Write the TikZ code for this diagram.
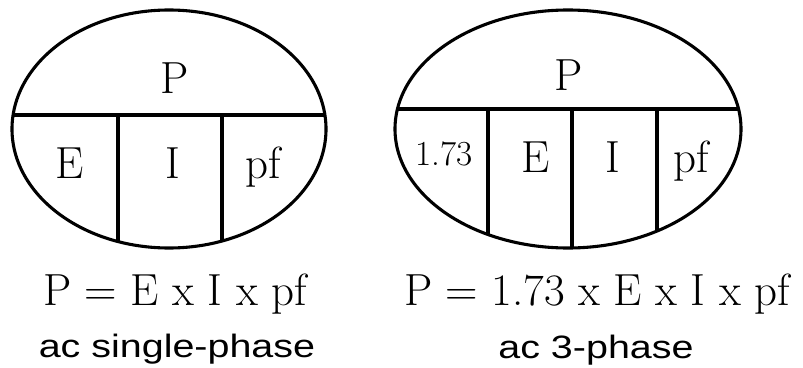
\documentclass[tikz,border=0pt]{standalone}
\usepackage{fontspec}
\usepackage{graphicx}
\newfontfamily\arialfont{Liberation Sans}
\newcommand\tightspace{\spaceskip 0.3em\relax}
\tikzset{
  rim/.style={line width=2.2pt,black},
  lbl/.style={anchor=base,inner sep=0pt,font=\rmfamily\fontsize{32}{38}\selectfont\tightspace},
  lblsmall/.style={anchor=base,inner sep=0pt,font=\rmfamily\fontsize{25}{30}\selectfont},
  caption/.style={anchor=base,inner sep=0pt,font=\arialfont\fontsize{23}{28}\selectfont}
}

\begin{document}
\begin{tikzpicture}[x=0.025cm,y=-0.025cm]
    \useasboundingbox (0,0) rectangle (803,368);
    \fill[white] (0,0) rectangle (803,368);
    % single-phase
    \begin{scope}
      \clip (169,129) ellipse [x radius=157,y radius=119];
      \draw[rim] (0,115)--(340,115);
      \foreach \x in {118,222}{\draw[rim] (\x,115)--(\x,260);}
    \end{scope}
    \draw[rim] (169,129) ellipse [x radius=157,y radius=119];
    \node[lbl] (pL) at (175,93){P};
    \node[lbl] (eL) at (70,178){E};
    \node[lbl] (iL) at (173,178){I};
    \node[lbl] (pfL) at (263,178){pf};
    % 3-phase
    \begin{scope}
      \clip (568,129) ellipse [x radius=173,y radius=119];
      \draw[rim] (380,109)--(760,109);
      \foreach \x in {488,572,657}{\draw[rim] (\x,109)--(\x,260);}
    \end{scope}
    \draw[rim] (568,129) ellipse [x radius=173,y radius=119];
    \node[lbl] (pR) at (569,90){P};
    \node[lblsmall] (kR) at (444,165){1.73};
    \node[lbl] (eR) at (536,172){E};
    \node[lbl] (iR) at (613,172){I};
    \node[lbl] (pfR) at (691,172){pf};
    \node[lbl] (fL) at (175,305){P = E x I x pf};
    \node[lbl] (fR) at (597,305){P = 1.73 x E x I x pf};
    \node[caption] (cL) at (177,357){\scalebox{1.22}[1]{ac single-phase}};
    \node[caption] (cR) at (596,358){\scalebox{1.22}[1]{ac 3-phase}};
  \end{tikzpicture}
\end{document}
